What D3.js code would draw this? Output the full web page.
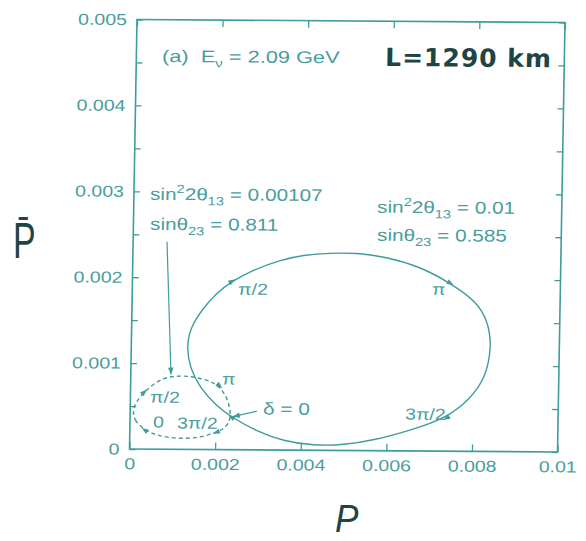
<!DOCTYPE html>
<html>
<head>
<meta charset="utf-8">
<script src="https://cdn.jsdelivr.net/npm/d3@7"></script>
<style>
  body { margin: 0; background: #fff; }
</style>
</head>
<body>
<div id="plot"></div>
<script>
// CP-trajectory plot (P vs P-bar), L = 1290 km, E = 2.09 GeV
const xTicks = [0, 0.002, 0.004, 0.006, 0.008, 0.01];
const xTickLabels = ['0', '0.002', '0.004', '0.006', '0.008', '0.01'];
const yTicks = [0, 0.001, 0.002, 0.003, 0.004, 0.005];
const yTickLabels = ['0', '0.001', '0.002', '0.003', '0.004', '0.005'];
const yMinorTicks = [0.0005, 0.0015, 0.0025, 0.0035, 0.0045];

// sin^2 2theta13 = 0.01, sin theta23 = 0.585 (solid), points in delta order from delta = 0
const solidP = [0.002374, 0.002021, 0.001621, 0.001381, 0.001294, 0.001364, 0.001666, 0.001974,
  0.002320, 0.002820, 0.003439, 0.003981, 0.004605, 0.005229, 0.005851, 0.006713, 0.007421,
  0.008051, 0.008332, 0.008421, 0.008278, 0.007935, 0.007399, 0.006547, 0.005771,
  0.004993, 0.004292, 0.003591, 0.002965];
const solidPbar = [0.000378, 0.000505, 0.000717, 0.000949, 0.001181, 0.001414, 0.001648, 0.001823,
  0.001959, 0.002095, 0.002212, 0.002272, 0.002298, 0.002300, 0.002263, 0.002149, 0.001958,
  0.001747, 0.001505, 0.001206, 0.000845, 0.000612, 0.000388, 0.000240, 0.000130,
  0.000062, 0.000056, 0.000103, 0.000217];
const solidMarks = [0, 8, 16, 22]; // delta = 0, pi/2, pi, 3pi/2

// sin^2 2theta13 = 0.00107, sin theta23 = 0.811 (dashed)
const dashedP = [0.000355, 0.000117, 0.000061, 0.000110, 0.000315, 0.000607, 0.000916, 0.001306,
  0.001776, 0.002072, 0.002287, 0.002374, 0.002245, 0.002030, 0.001643, 0.001098, 0.000631];
const dashedPbar = [0.000220, 0.000323, 0.000421, 0.000537, 0.000662, 0.000791, 0.000850, 0.000859,
  0.000814, 0.000745, 0.000584, 0.000378, 0.000255, 0.000202, 0.000136, 0.000122, 0.000159];
const dashedMarks = [0, 4, 9, 13];

// delta labels
const solidLabels = ['π/2', 'π', '3π/2'];
const solidLabelP = [0.002472, 0.007005, 0.006425];
const solidLabelPbar = [0.001805, 0.001821, 0.000365];
const dashedLabels = ['0', 'π/2', 'π', '3π/2'];
const dashedLabelP = [0.000540, 0.000460, 0.002135, 0.001100];
const dashedLabelPbar = [0.000252, 0.000542, 0.000757, 0.000242];

// annotation arrows (start, tip)
const pointerP = [0.000792, 0.000939];
const pointerPbar = [0.002416, 0.000870];
const deltaArrowP = [0.002963, 0.002400];
const deltaArrowPbar = [0.000450, 0.000385];

const W = 428, H = 430;
const teal = '#3f9c9c', ink = '#4a9d9d', hand = '#1f4444';
const SX = 1.22;
const font = 'Liberation Sans, Arial, sans-serif';

const svg = d3.select('#plot').append('svg').attr('width', 586).attr('height', 541);
// the scanned frame is slightly rotated/sheared
const g = svg.append('g').attr('transform', 'matrix(1,0.00701,-0.01744,0.99884,137,19.5)');

const x = d3.scaleLinear().domain([0, 0.01]).range([0, W]);
const y = d3.scaleLinear().domain([0, 0.005]).range([H, 0]);

function label(px, py, size, sx) {
  return g.append('text')
    .attr('transform', `translate(${px},${py}) scale(${sx || SX},1)`)
    .style('font-family', font)
    .style('font-size', size + 'px')
    .attr('fill', ink);
}

// axes
const yAll = yTicks.concat(yMinorTicks).sort((a, b) => a - b);
const yFmt = (d) => { const i = yTicks.indexOf(d); return i < 0 ? '' : yTickLabels[i]; };

const axBottom = g.append('g').attr('transform', `translate(0,${H})`)
  .call(d3.axisBottom(x).tickValues(xTicks).tickFormat((d, i) => xTickLabels[i]).tickSize(-7).tickSizeOuter(0).tickPadding(9));
const axTop = g.append('g').call(d3.axisTop(x).tickValues(xTicks).tickFormat('').tickSize(-7).tickSizeOuter(0));
const axLeft = g.append('g').call(d3.axisLeft(y).tickValues(yAll).tickFormat(yFmt).tickSize(-6).tickSizeOuter(0).tickPadding(10));
const axRight = g.append('g').attr('transform', `translate(${W},0)`)
  .call(d3.axisRight(y).tickValues(yAll).tickFormat('').tickSize(-6).tickSizeOuter(0));

[axBottom, axTop, axLeft, axRight].forEach((a) => {
  a.select('.domain').remove();
  a.selectAll('line').attr('stroke', teal).attr('stroke-width', 1.3);
  a.selectAll('text').attr('fill', ink).style('font-size', '16px').style('font-family', font);
});
axBottom.selectAll('text').attr('transform', `scale(${SX},1)`);
axLeft.selectAll('text').attr('x', -10 / SX).attr('transform', `scale(${SX},1)`);

g.append('rect').attr('width', W).attr('height', H).attr('fill', 'none').attr('stroke', teal).attr('stroke-width', 1.6);

// trajectories
const line = d3.line().x((d) => x(d[0])).y((d) => y(d[1])).curve(d3.curveBasisClosed);
const solidPts = solidP.map((p, i) => [p, solidPbar[i]]);
const dashedPts = dashedP.map((p, i) => [p, dashedPbar[i]]);

g.append('path').attr('d', line(solidPts)).attr('fill', 'none').attr('stroke', teal).attr('stroke-width', 1.4);
g.append('path').attr('d', line(dashedPts)).attr('fill', 'none').attr('stroke', teal).attr('stroke-width', 1.4).attr('stroke-dasharray', '4,3');

function heads(pts, idx) {
  const n = pts.length;
  idx.forEach((i) => {
    const a = pts[(i - 1 + n) % n], b = pts[(i + 1) % n];
    const ang = Math.atan2(y(b[1]) - y(a[1]), x(b[0]) - x(a[0])) * 180 / Math.PI;
    g.append('path').attr('d', 'M4,0L-3,-2.6L-3,2.6Z')
      .attr('transform', `translate(${x(pts[i][0])},${y(pts[i][1])}) rotate(${ang})`)
      .attr('fill', teal);
  });
}
heads(solidPts, solidMarks);
heads(dashedPts, dashedMarks);

function arrow(ps, pbs) {
  const x0 = x(ps[0]), y0 = y(pbs[0]), x1 = x(ps[1]), y1 = y(pbs[1]);
  g.append('line').attr('x1', x0).attr('y1', y0).attr('x2', x1).attr('y2', y1).attr('stroke', teal).attr('stroke-width', 1.2);
  const ang = Math.atan2(y1 - y0, x1 - x0) * 180 / Math.PI;
  g.append('path').attr('d', 'M0,0L-7,-2.8L-7,2.8Z').attr('transform', `translate(${x1},${y1}) rotate(${ang})`).attr('fill', teal);
}
arrow(pointerP, pointerPbar);
arrow(deltaArrowP, deltaArrowPbar);

// delta labels
solidLabels.forEach((t, i) => label(x(solidLabelP[i]), y(solidLabelPbar[i]), 16).text(t));
dashedLabels.forEach((t, i) => label(x(dashedLabelP[i]), y(dashedLabelPbar[i]), 16).text(t));
label(x(0.003105), y(0.000412), 17).text('δ\u00a0=\u00a00');

// parameter labels
function sinLine(px, pb, val) {
  const t = label(x(px), y(pb), 17);
  t.append('tspan').text('sin');
  t.append('tspan').attr('dy', -7).style('font-size', '12px').text('2');
  t.append('tspan').attr('dy', 7).text('2θ');
  t.append('tspan').attr('dy', 5).style('font-size', '12px').text('13');
  t.append('tspan').attr('dy', -5).text('\u00a0=\u00a0' + val);
}
function sin23(px, pb, val) {
  const t = label(x(px), y(pb), 17);
  t.append('tspan').text('sinθ');
  t.append('tspan').attr('dy', 5).style('font-size', '12px').text('23');
  t.append('tspan').attr('dy', -5).text('\u00a0=\u00a0' + val);
}
sinLine(0.000377, 0.002902, '0.00107');
sin23(0.000390, 0.002553, '0.811');
sinLine(0.005687, 0.002770, '0.01');
sin23(0.005698, 0.002444, '0.585');

const title = label(x(0.000601), y(0.004508), 17, 1.28);
title.append('tspan').text('(a)\u00a0\u00a0E');
title.append('tspan').attr('dy', 5).style('font-size', '12px').text('ν');
title.append('tspan').attr('dy', -5).text('\u00a0=\u00a02.09\u00a0GeV');

g.append('text').attr('x', x(0.005813)).attr('y', y(0.004479))
  .style('font-family', 'DejaVu Sans, sans-serif').style('font-weight', 'bold').style('font-size', '25px')
  .style('letter-spacing', '1px').attr('fill', hand).text('L=1290\u00a0km');

// handwritten axis titles
svg.append('text').attr('transform', 'translate(13,258) scale(0.68,1)')
  .style('font-family', font).style('font-size', '50px').attr('fill', hand).text('P\u0304');
svg.append('text').attr('transform', 'translate(335,532) scale(0.95,1.05)')
  .style('font-family', font).style('font-style', 'italic').style('font-size', '37px').attr('fill', hand).text('P');
</script>
</body>
</html>
